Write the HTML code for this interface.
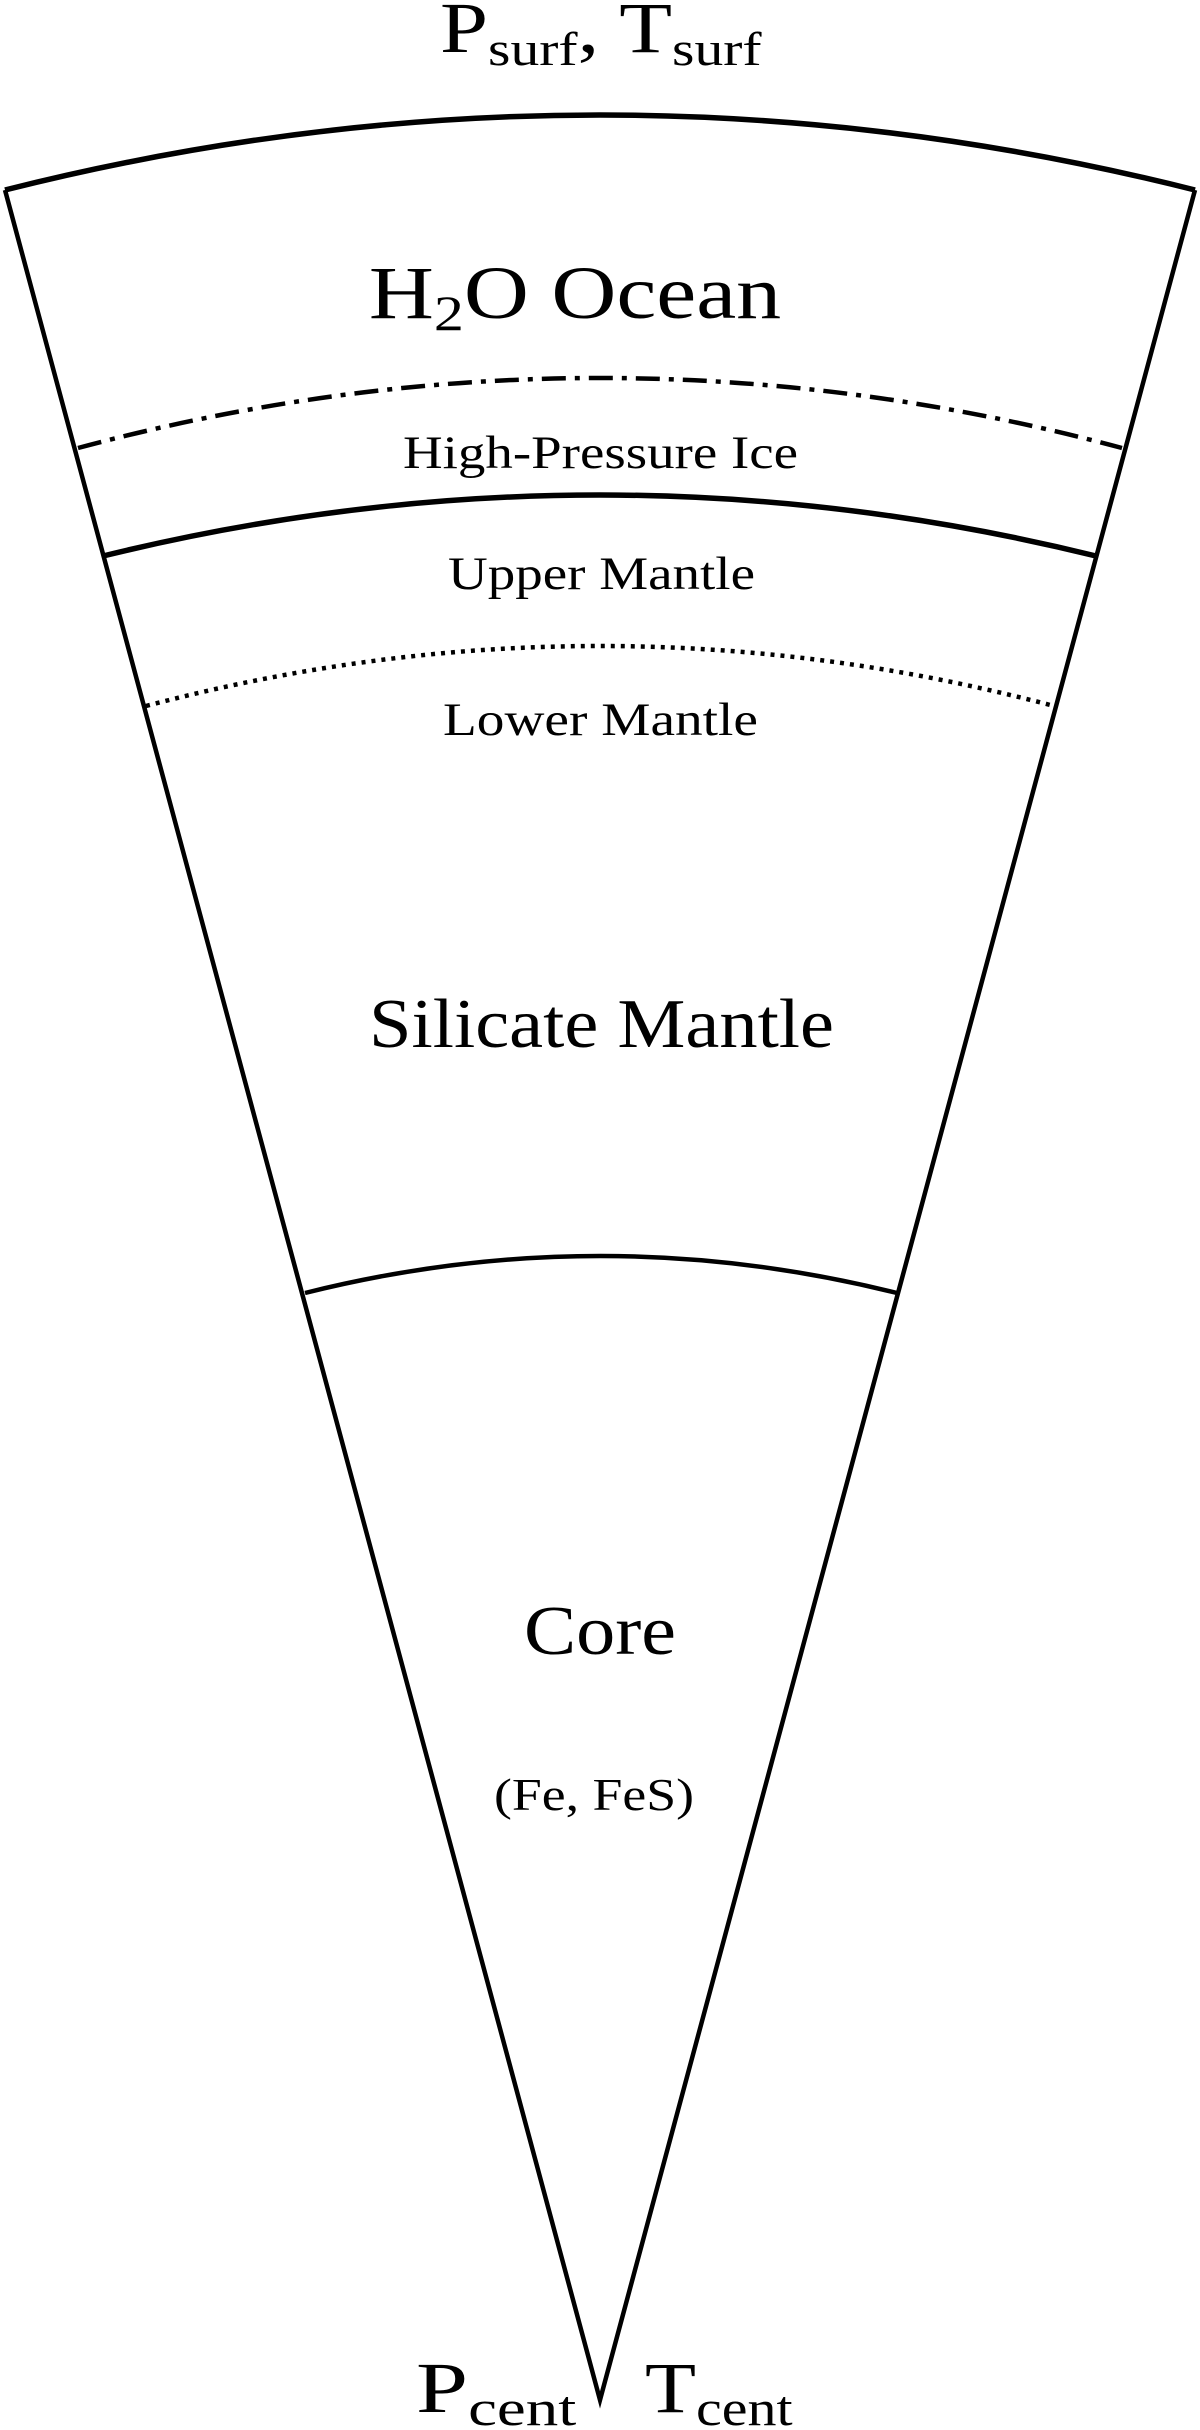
<!DOCTYPE html>
<html><head><meta charset="utf-8"><style>
html,body{margin:0;padding:0;background:#fff;}
svg{display:block;}
text{font-family:"Liberation Serif",serif;fill:#000;}
</style></head><body>
<svg width="1200" height="2430" viewBox="0 0 1200 2430" xmlns="http://www.w3.org/2000/svg">
<g fill="none" stroke="#000" stroke-linecap="butt">
<path d="M5 190 Q600 40 1195 190" stroke-width="5.5"/>
<path d="M5 190 L600 2400 L1195 190" stroke-width="4.5" stroke-linejoin="miter"/>
<path d="M78 448 Q600 308 1122 448" stroke-width="4.5" stroke-dasharray="24 9 5 9"/>
<path d="M103 556 Q600 434 1096 556" stroke-width="5.5"/>
<path d="M146 706 Q600 586 1054 706" stroke-width="4.5" stroke-dasharray="4 6"/>
<path d="M305 1293 Q600 1219 897 1293" stroke-width="4.5"/>
</g>
<g transform="translate(440 0) scale(1.2 1)">
<text x="0" y="52" font-size="72">P<tspan font-size="48" dy="13">surf</tspan><tspan dy="-13">, T</tspan><tspan font-size="48" dy="13">surf</tspan></text>
</g>
<g transform="translate(575 0) scale(1.2 1)">
<text x="0" y="318" font-size="75" text-anchor="middle">H<tspan font-size="50" dy="12">2</tspan><tspan dy="-12">O Ocean</tspan></text>
</g>
<text x="403" y="468" font-size="47" textLength="395" lengthAdjust="spacingAndGlyphs">High-Pressure Ice</text>
<text x="448" y="589" font-size="47" textLength="307" lengthAdjust="spacingAndGlyphs">Upper Mantle</text>
<text x="443" y="735" font-size="47" textLength="315" lengthAdjust="spacingAndGlyphs">Lower Mantle</text>
<text x="369" y="1047" font-size="70" textLength="465" lengthAdjust="spacingAndGlyphs">Silicate Mantle</text>
<text x="524" y="1654" font-size="70" textLength="152" lengthAdjust="spacingAndGlyphs">Core</text>
<text x="494" y="1810" font-size="46" textLength="200" lengthAdjust="spacingAndGlyphs">(Fe, FeS)</text>
<g transform="translate(416 0) scale(1.3 1)">
<text x="0" y="2412" font-size="72">P<tspan font-size="50" dy="13">cent</tspan></text>
</g>
<g transform="translate(645 0) scale(1.16 1)">
<text x="0" y="2412" font-size="72">T<tspan font-size="50" dy="13">cent</tspan></text>
</g>
</svg>
</body></html>
